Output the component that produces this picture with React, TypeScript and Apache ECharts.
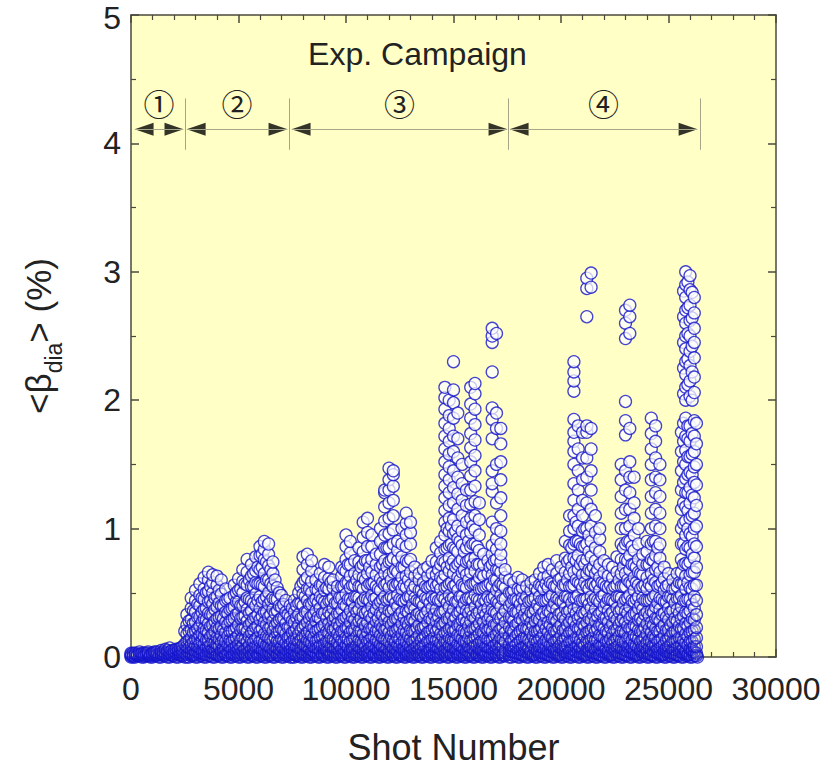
import React, { useEffect, useRef } from 'react';
import * as echarts from 'echarts';

// Each row: [shot number, <beta_dia> values (%) recorded around that shot ...]
const campaign1: number[][] = [
  [0, 0, .01, .02, .03], [200, 0, .02, .03], [400, .01, .02, .04], [600, 0, .01, .03],
  [800, .01, .02, .03, .04], [1000, 0, .02, .03], [1200, .01, .02, .04], [1400, 0, .02, .03, .05],
  [1600, .01, .03, .06], [1800, 0, .02, .04, .07], [2000, .01, .03, .05], [2200, 0, .02, .04, .06],
  [2400, .01, .03, .05, .08],
];
const campaign1Odd: number[][] = [
  [100, 0, .01, .03], [300, .01, .02], [500, 0, .02, .03], [700, .01, .03], [900, 0, .01, .02],
  [1100, .01, .03, .04], [1300, 0, .02], [1500, .01, .02, .04], [1700, 0, .03, .05], [1900, .01, .02, .05],
  [2100, 0, .03, .06], [2300, .01, .02, .04, .07], [2500, 0, .03, .1, .2],
];

const campaign2: number[][] = [
  [2600, 0, .02, .05, .08, .12, .18, .25, .33],
  [2800, .01, .03, .06, .1, .15, .21, .29, .38, .46],
  [3000, 0, .02, .04, .09, .14, .2, .27, .35, .44, .52],
  [3200, .01, .03, .07, .11, .17, .24, .31, .4, .48, .57],
  [3400, 0, .02, .05, .1, .16, .22, .3, .37, .45, .53, .62],
  [3600, .01, .04, .08, .13, .19, .26, .34, .43, .51, .6, .66],
  [3800, 0, .03, .06, .12, .18, .25, .33, .41, .5, .58, .64],
  [4000, .01, .02, .07, .1, .15, .23, .3, .39, .47, .56, .63],
  [4200, 0, .03, .05, .11, .17, .24, .32, .4, .49, .6],
  [4400, .01, .02, .06, .12, .19, .27, .35, .44, .53],
  [4600, 0, .04, .08, .13, .2, .28, .37, .46],
  [4800, .01, .03, .07, .14, .21, .3, .39, .48, .56],
  [5000, 0, .02, .06, .1, .17, .25, .34, .43, .52, .61],
  [5200, .01, .04, .09, .15, .22, .31, .4, .5, .59, .68],
  [5400, 0, .03, .07, .12, .2, .28, .37, .46, .56, .66, .76],
  [5600, .01, .02, .06, .13, .19, .27, .36, .44, .55, .63, .72],
  [5800, 0, .04, .08, .14, .23, .31, .4, .49, .58, .67, .78],
  [6000, .01, .03, .07, .12, .2, .29, .38, .47, .57, .68, .79, .86],
  [6200, 0, .02, .05, .11, .18, .27, .35, .45, .55, .65, .76, .84, .9],
  [6400, .01, .04, .09, .15, .22, .31, .41, .5, .6, .71, .8, .88],
  [6600, 0, .03, .06, .13, .2, .28, .37, .46, .55, .65, .74],
  [6800, .01, .02, .07, .12, .19, .27, .36, .45, .54],
  [7000, 0, .04, .08, .14, .22, .3, .39, .48],
  [7200, .01, .03, .06, .11, .18, .26, .35, .44],
  [7400, 0, .02, .05, .1, .16, .23, .31, .4],
];
const campaign2Odd: number[][] = [
  [2700, 0, .03, .07, .13, .2, .28], [2900, .01, .02, .06, .11, .19, .26, .36],
  [3100, 0, .04, .08, .14, .22, .31, .41], [3300, .01, .03, .05, .12, .18, .27, .35, .46],
  [3500, 0, .02, .07, .13, .21, .29, .38, .5], [3700, .01, .04, .09, .16, .24, .33, .44, .55],
  [3900, 0, .03, .06, .11, .2, .28, .37, .46], [4100, .01, .02, .08, .14, .22, .31, .42, .52],
  [4300, 0, .04, .07, .13, .21, .3, .4], [4500, .01, .03, .09, .16, .25, .34, .45],
  [4700, 0, .02, .06, .12, .2, .29, .38], [4900, .01, .04, .08, .15, .23, .33, .43, .5],
  [5100, 0, .03, .07, .13, .21, .3, .4, .53], [5300, .01, .02, .06, .14, .22, .32, .43, .57],
  [5500, 0, .04, .09, .16, .25, .34, .45, .6], [5700, .01, .03, .07, .12, .21, .3, .42, .55, .65],
  [5900, 0, .02, .08, .15, .24, .33, .44, .57, .7], [6100, .01, .04, .06, .13, .22, .32, .43, .56, .7, .8],
  [6300, 0, .03, .09, .16, .25, .35, .47, .6, .74], [6500, .01, .02, .07, .14, .23, .33, .44, .57, .68],
  [6700, 0, .04, .08, .15, .24, .34, .45, .6], [6900, .01, .03, .06, .12, .2, .29, .4, .5],
  [7100, 0, .02, .07, .13, .21, .3, .41], [7300, .01, .04, .09, .15, .23, .33],
];

const campaign3: number[][] = [
  [7600, 0, .02, .05, .09, .14, .2, .27, .35, .44],
  [7800, .01, .03, .07, .12, .18, .25, .33, .42, .5],
  [8000, 0, .02, .06, .1, .16, .23, .31, .4, .49, .58, .68, .78],
  [8200, .01, .04, .08, .13, .19, .27, .35, .44, .53, .62, .72, .8],
  [8400, 0, .03, .05, .11, .17, .24, .32, .41, .5, .59, .67, .75],
  [8600, .01, .02, .07, .12, .2, .28, .36, .45, .53, .6],
  [8800, 0, .04, .09, .15, .22, .3, .38, .47, .56, .65],
  [9000, .01, .03, .06, .1, .17, .25, .34, .43, .52, .62, .72],
  [9200, 0, .02, .05, .12, .19, .26, .35, .44, .53, .61, .7],
  [9400, .01, .04, .08, .14, .21, .29, .38, .46, .54, .6],
  [9600, 0, .03, .07, .11, .18, .26, .34, .42, .5, .55],
  [9800, .01, .02, .06, .13, .2, .28, .37, .46, .55, .63, .7],
  [10000, 0, .04, .09, .15, .23, .31, .4, .49, .58, .67, .76, .86, .95],
  [10200, .01, .03, .05, .12, .19, .27, .36, .45, .54, .63, .72, .81, .9],
  [10400, 0, .02, .07, .14, .21, .29, .38, .47, .56, .65, .75],
  [10600, .01, .04, .08, .13, .2, .28, .37, .46, .55, .64, .74, .85],
  [10800, 0, .03, .06, .11, .18, .26, .35, .44, .53, .62, .72, .82, .93, 1.05],
  [11000, .01, .02, .05, .12, .19, .27, .36, .45, .55, .65, .75, .86, .97, 1.08],
  [11200, 0, .04, .09, .15, .22, .3, .39, .48, .57, .66, .76, .86, .95],
  [11400, .01, .03, .07, .13, .2, .28, .37, .46, .55, .64, .72, .8],
  [11600, 0, .02, .06, .1, .17, .25, .34, .43, .52, .61, .7, .8, .9, 1.0],
  [11800, .01, .04, .08, .14, .21, .29, .38, .47, .56, .65, .75, .85, .95, 1.06, 1.17, 1.28, 1.3],
  [12000, 0, .03, .05, .12, .19, .27, .36, .45, .54, .64, .74, .85, .96, 1.08, 1.2, 1.3, 1.38, 1.47],
  [12200, .01, .02, .07, .13, .2, .28, .37, .46, .56, .66, .77, .88, .99, 1.1, 1.22, 1.33, 1.42, 1.45],
  [12400, 0, .04, .09, .15, .22, .3, .39, .48, .57, .66, .75, .83, .9],
  [12600, .01, .03, .06, .11, .18, .26, .35, .44, .53, .62, .7, .78, .88, 1.0],
  [12800, 0, .02, .05, .12, .19, .27, .36, .45, .54, .63, .75, .86, .95, 1.04, 1.12],
  [13000, .01, .04, .08, .14, .21, .29, .38, .47, .56, .66, .76, .88, .97, 1.05],
  [13200, 0, .03, .07, .13, .2, .28, .37, .46, .55, .63, .7],
  [13400, .01, .02, .06, .1, .17, .25, .34, .43, .52, .6, .65],
  [13600, 0, .04, .09, .15, .23, .31, .4, .49, .58, .68],
  [13800, .01, .03, .05, .12, .19, .27, .36, .45, .54, .63, .7],
  [14000, 0, .02, .07, .14, .21, .29, .38, .47, .56, .65, .75],
  [14200, .01, .04, .08, .13, .2, .28, .37, .46, .55, .64, .74, .85],
  [14400, 0, .03, .06, .11, .18, .26, .35, .44, .53, .62, .72, .81, .9],
  [14600, .01, .02, .05, .12, .19, .27, .36, .45, .54, .64, .74, .84, .95, 1.05, 1.14, 1.24, 1.33, 1.42, 1.52, 1.62, 1.72, 1.82, 1.93, 2.02, 2.1],
  [14800, 0, .04, .09, .15, .22, .3, .39, .48, .57, .67, .77, .87, .98, 1.08, 1.18, 1.28, 1.38, 1.48, 1.58, 1.68, 1.78, 1.88, 2.0],
  [15000, .01, .03, .07, .13, .2, .28, .37, .46, .55, .65, .75, .85, .96, 1.07, 1.2, 1.32, 1.45, 1.6, 1.72, 1.86, 1.98, 2.08, 2.3],
  [15200, 0, .02, .06, .1, .17, .25, .34, .43, .52, .62, .72, .82, .92, 1.02, 1.15, 1.27, 1.4, 1.55, 1.7, 1.9],
  [15400, .01, .04, .08, .14, .21, .29, .38, .47, .56, .66, .76, .87, .98, 1.1, 1.22, 1.35, 1.5],
  [15600, 0, .03, .05, .12, .19, .27, .36, .45, .54, .64, .74, .85, .95, 1.05, 1.18, 1.3],
  [15800, .01, .02, .07, .13, .2, .28, .37, .46, .56, .66, .76, .86, .97, 1.08, 1.19, 1.3, 1.41, 1.52, 1.63, 1.74, 1.86, 1.97, 2.1],
  [16000, 0, .04, .09, .15, .22, .3, .39, .48, .57, .67, .77, .88, .99, 1.1, 1.21, 1.33, 1.45, 1.57, 1.69, 1.81, 1.93, 2.05, 2.13],
  [16200, .01, .03, .06, .11, .18, .26, .35, .44, .53, .62, .72, .83, .95, 1.07, 1.2],
  [16400, 0, .02, .05, .12, .19, .27, .36, .45, .54, .63, .72, .8],
  [16600, .01, .04, .08, .14, .21, .29, .38, .47, .56, .65, .75],
  [16800, 0, .03, .07, .13, .2, .28, .37, .46, .55, .64, .72, .8, .87, 1.05, 1.29, 1.35, 1.45, 1.7, 1.85, 1.94, 2.22, 2.45, 2.5, 2.56],
  [17000, .01, .02, .06, .1, .17, .25, .34, .43, .52, .6, .68, .76, .84, .92, 1.0, 1.2, 1.5, 1.78, 1.9, 2.52],
  [17200, 0, .04, .09, .15, .22, .3, .39, .48, .57, .66, .74, .8, .88, .98, 1.1, 1.24, 1.38, 1.52, 1.66, 1.78],
  [17400, .01, .03, .05, .12, .19, .27, .36, .45, .54, .62, .68],
];
const campaign3Odd: number[][] = [
  [7500, 0, .03, .06, .12, .19, .28, .38], [7700, .01, .02, .08, .14, .22, .31, .4],
  [7900, 0, .04, .07, .13, .21, .3, .42, .55], [8100, .01, .03, .09, .16, .25, .35, .47, .6],
  [8300, 0, .02, .06, .12, .2, .3, .41, .53], [8500, .01, .04, .08, .15, .23, .33, .44],
  [8700, 0, .03, .07, .13, .21, .31, .42, .52], [8900, .01, .02, .09, .16, .24, .34, .45, .56],
  [9100, 0, .04, .06, .12, .2, .3, .41, .54], [9300, .01, .03, .08, .15, .23, .33, .44, .58],
  [9500, 0, .02, .07, .13, .22, .31, .42], [9700, .01, .04, .09, .16, .24, .34, .46],
  [9900, 0, .03, .06, .12, .2, .3, .41, .55, .68], [10100, .01, .02, .08, .14, .23, .33, .45, .58, .72],
  [10300, 0, .04, .07, .13, .21, .31, .43, .56], [10500, .01, .03, .09, .16, .25, .35, .47, .6],
  [10700, 0, .02, .06, .12, .2, .3, .42, .55, .7], [10900, .01, .04, .08, .15, .24, .34, .46, .6, .75],
  [11100, 0, .03, .07, .13, .22, .32, .44, .57, .7], [11300, .01, .02, .09, .16, .24, .34, .45, .58],
  [11500, 0, .04, .06, .12, .2, .3, .41, .53], [11700, .01, .03, .08, .15, .23, .33, .45, .58, .72],
  [11900, 0, .02, .07, .13, .22, .32, .44, .57, .7, .85], [12100, .01, .04, .09, .16, .25, .35, .47, .6, .75],
  [12300, 0, .03, .06, .12, .2, .3, .42, .55, .68], [12500, .01, .02, .08, .14, .23, .33, .45, .57],
  [12700, 0, .04, .07, .13, .21, .31, .43, .56, .7], [12900, .01, .03, .09, .16, .25, .35, .47, .6, .74],
  [13100, 0, .02, .06, .12, .2, .3, .41, .52], [13300, .01, .04, .08, .15, .23, .33, .44],
  [13500, 0, .03, .07, .13, .22, .32, .43, .52], [13700, .01, .02, .09, .16, .24, .34, .46, .55],
  [13900, 0, .04, .06, .12, .2, .3, .42, .55], [14100, .01, .03, .08, .15, .23, .33, .45, .58],
  [14300, 0, .02, .07, .13, .22, .32, .44, .57, .68], [14500, .01, .04, .09, .16, .25, .35, .47, .6, .75],
  [14700, 0, .03, .06, .12, .2, .3, .42, .55, .7, .85, 1.0], [14900, .01, .02, .08, .14, .23, .33, .45, .58, .72, .88, 1.02],
  [15100, 0, .04, .07, .13, .21, .31, .43, .56, .7, .84, .98], [15300, .01, .03, .09, .16, .25, .35, .47, .6, .74, .9],
  [15500, 0, .02, .06, .12, .2, .3, .42, .55, .68, .82], [15700, .01, .04, .08, .15, .24, .34, .46, .6, .75, .9],
  [15900, 0, .03, .07, .13, .22, .32, .44, .57, .72, .88, 1.02], [16100, .01, .02, .09, .16, .24, .34, .45, .58, .72, .86],
  [16300, 0, .04, .06, .12, .2, .3, .41, .53, .65], [16500, .01, .03, .08, .15, .23, .33, .44, .55],
  [16700, 0, .02, .07, .13, .22, .32, .44, .57, .7], [16900, .01, .04, .09, .16, .25, .35, .47, .6, .75],
  [17100, 0, .03, .06, .12, .2, .3, .42, .55, .68], [17300, .01, .02, .08, .14, .23, .33, .45, .56],
];

const campaign4: number[][] = [
  [17600, 0, .02, .05, .1, .16, .23, .31, .4, .5, .6],
  [17800, .01, .04, .08, .13, .2, .28, .36, .45, .52, .58],
  [18000, 0, .03, .06, .11, .18, .26, .35, .44, .53, .62],
  [18200, .01, .02, .07, .14, .21, .29, .37, .46, .54, .6],
  [18400, 0, .04, .09, .15, .22, .3, .38, .47, .55],
  [18600, .01, .03, .05, .12, .19, .27, .35, .44, .52, .58],
  [18800, 0, .02, .06, .13, .2, .28, .37, .46, .54, .6],
  [19000, .01, .04, .08, .14, .21, .29, .38, .47, .56, .65],
  [19200, 0, .03, .07, .11, .18, .26, .35, .44, .53, .62, .7],
  [19400, .01, .02, .05, .12, .19, .27, .36, .45, .54, .63, .72],
  [19600, 0, .04, .09, .15, .22, .3, .39, .48, .57, .68],
  [19800, .01, .03, .06, .13, .2, .28, .37, .46, .55, .65, .75],
  [20000, 0, .02, .07, .1, .17, .25, .34, .43, .52, .61, .7],
  [20200, .01, .04, .08, .14, .21, .29, .38, .47, .56, .66, .77, .9],
  [20400, 0, .03, .05, .12, .19, .27, .36, .45, .55, .65, .76, .87, .98, 1.1],
  [20600, .01, .02, .06, .13, .2, .28, .37, .46, .56, .66, .77, .88, 1.0, 1.1, 1.22, 1.35, 1.5, 1.6, 1.68, 1.75, 1.85, 2.07, 2.15, 2.22, 2.3],
  [20800, 0, .04, .09, .15, .22, .3, .39, .48, .58, .68, .79, .9, 1.02, 1.15, 1.3, 1.45, 1.62, 1.8],
  [21000, .01, .03, .07, .11, .18, .26, .35, .44, .54, .64, .75, .86, .98, 1.1, 1.22, 1.38, 1.55, 1.75],
  [21200, 0, .02, .05, .12, .19, .27, .36, .45, .55, .65, .76, .88, 1.0, 1.2, 1.4, 1.55, 1.75, 1.8, 2.65, 2.87, 2.95],
  [21400, .01, .04, .08, .14, .21, .29, .38, .47, .57, .67, .78, .9, 1.02, 1.15, 1.3, 1.45, 1.62, 1.78, 2.88, 2.99],
  [21600, 0, .03, .06, .13, .2, .28, .37, .46, .55, .65, .75, .85, .97, 1.1],
  [21800, .01, .02, .07, .1, .17, .25, .34, .43, .52, .62, .72, .82, .92, 1.0],
  [22000, 0, .04, .09, .15, .22, .3, .39, .48, .57, .66, .75],
  [22200, .01, .03, .05, .12, .19, .27, .36, .45, .54, .63, .72],
  [22400, 0, .02, .06, .11, .18, .26, .35, .44, .53, .62, .7],
  [22600, .01, .04, .08, .14, .21, .29, .38, .47, .56, .66, .78],
  [22800, 0, .03, .07, .13, .2, .28, .37, .46, .55, .65, .76, .88, 1.0, 1.12, 1.25, 1.38, 1.5],
  [23000, .01, .02, .05, .12, .19, .27, .36, .45, .55, .65, .76, .88, 1.0, 1.15, 1.3, 1.45, 1.73, 1.84, 1.99, 2.48, 2.6, 2.7],
  [23200, 0, .04, .09, .15, .22, .3, .39, .48, .58, .68, .79, .9, 1.02, 1.15, 1.28, 1.4, 1.52, 1.78, 2.52, 2.65, 2.74],
  [23400, .01, .03, .06, .1, .17, .25, .34, .43, .52, .62, .72, .83, .95, 1.08, 1.2, 1.4],
  [23600, 0, .02, .07, .14, .21, .29, .38, .47, .56, .66, .76, .88, 1.0],
  [23800, .01, .04, .08, .13, .2, .28, .37, .46, .55, .64, .72, .8],
  [24000, 0, .03, .05, .11, .18, .26, .35, .44, .53, .62, .72, .82, .9],
  [24200, .01, .02, .06, .12, .19, .27, .36, .45, .55, .65, .76, .88, 1.0, 1.12, 1.25, 1.38, 1.5, 1.62, 1.74, 1.86],
  [24400, 0, .04, .09, .15, .22, .3, .39, .48, .58, .68, .79, .9, 1.02, 1.15, 1.28, 1.4, 1.55, 1.68, 1.8],
  [24600, .01, .03, .07, .13, .2, .28, .37, .46, .56, .66, .77, .88, 1.0, 1.12, 1.25, 1.38, 1.5],
  [24800, 0, .02, .05, .1, .17, .25, .34, .43, .52, .61, .7],
  [25000, .01, .04, .08, .14, .21, .29, .38, .47, .56, .65],
  [25200, 0, .03, .06, .12, .19, .27, .36, .45, .53, .6],
  [25400, .01, .02, .07, .13, .2, .28, .37, .46, .55, .65],
  [25600, 0, .04, .09, .15, .22, .3, .39, .48, .57, .66, .76, .88, 1.0, 1.15, 1.3, 1.45, 1.6, 1.75],
  [25800, .01, .03, .05, .11, .18, .26, .35, .44, .53, .63, .73, .84, .95, 1.06, 1.17, 1.28, 1.39, 1.5, 1.61, 1.72, 1.86, 2.0, 2.1, 2.2, 2.3, 2.4, 2.5, 2.6, 2.7, 2.8, 2.9, 3.0],
  [26000, 0, .02, .06, .12, .19, .27, .36, .45, .54, .64, .74, .85, .96, 1.08, 1.2, 1.32, 1.44, 1.56, 1.68, 1.8, 2.03, 2.15, 2.27, 2.38, 2.5, 2.62, 2.74, 2.86, 2.97],
  [26200, .01, .04, .08, .14, .21, .29, .38, .47, .56, .66, .77, .88, 1.0, 1.12, 1.24, 1.36, 1.48, 1.6, 1.72, 1.84, 2.06, 2.18, 2.33, 2.45, 2.56, 2.68, 2.8],
  [26350, 0],
];
const campaign4Odd: number[][] = [
  [17700, 0, .04, .07, .13, .21, .31, .42, .5], [17900, .01, .03, .09, .16, .25, .35, .45],
  [18100, 0, .02, .06, .12, .2, .3, .41, .52], [18300, .01, .04, .08, .15, .23, .33, .44],
  [18500, 0, .03, .07, .13, .22, .32, .43], [18700, .01, .02, .09, .16, .24, .34, .45],
  [18900, 0, .04, .06, .12, .2, .3, .41, .52], [19100, .01, .03, .08, .15, .23, .33, .44, .55],
  [19300, 0, .02, .07, .13, .22, .32, .44, .57], [19500, .01, .04, .09, .16, .25, .35, .47, .58],
  [19700, 0, .03, .06, .12, .2, .3, .42, .55], [19900, .01, .02, .08, .14, .23, .33, .45, .6],
  [20100, 0, .04, .07, .13, .21, .31, .43, .56], [20300, .01, .03, .09, .16, .25, .35, .47, .6, .74],
  [20500, 0, .02, .06, .12, .2, .3, .42, .55, .7, .85], [20700, .01, .04, .08, .15, .24, .34, .46, .6, .75, .9, 1.05],
  [20900, 0, .03, .07, .13, .22, .32, .44, .57, .72, .88], [21100, .01, .02, .09, .16, .24, .34, .45, .58, .72, .86, 1.0],
  [21300, 0, .04, .06, .12, .2, .3, .41, .53, .68, .82, .95], [21500, .01, .03, .08, .15, .23, .33, .44, .57, .7],
  [21700, 0, .02, .07, .13, .22, .32, .44, .57, .68], [21900, .01, .04, .09, .16, .25, .35, .47, .58],
  [22100, 0, .03, .06, .12, .2, .3, .42, .55], [22300, .01, .02, .08, .14, .23, .33, .45, .56],
  [22500, 0, .04, .07, .13, .21, .31, .43, .55], [22700, .01, .03, .09, .16, .25, .35, .47, .6],
  [22900, 0, .02, .06, .12, .2, .3, .42, .55, .7, .85], [23100, .01, .04, .08, .15, .24, .34, .46, .6, .75, .9],
  [23300, 0, .03, .07, .13, .22, .32, .44, .57, .72, .86], [23500, .01, .02, .09, .16, .24, .34, .45, .58, .7],
  [23700, 0, .04, .06, .12, .2, .3, .41, .53, .65], [23900, .01, .03, .08, .15, .23, .33, .44, .56],
  [24100, 0, .02, .07, .13, .22, .32, .44, .57, .72], [24300, .01, .04, .09, .16, .25, .35, .47, .6, .75, .9],
  [24500, 0, .03, .06, .12, .2, .3, .42, .55, .7, .85], [24700, .01, .02, .08, .14, .23, .33, .45, .58],
  [24900, 0, .04, .07, .13, .21, .31, .43, .55], [25100, .01, .03, .09, .16, .25, .35, .47],
  [25300, 0, .02, .06, .12, .2, .3, .42, .53], [25500, .01, .04, .08, .15, .24, .34, .46, .58],
  [25700, 0, .03, .07, .13, .22, .32, .44, .57, .72, .88, 1.04, 1.2, 1.36, 1.52, 1.68, 1.82, 2.05, 2.25, 2.45, 2.65, 2.85],
  [25900, .01, .02, .09, .16, .24, .34, .45, .58, .72, .86, 1.0, 1.14, 1.28, 1.42, 1.56, 1.7, 1.8, 2.12, 2.32, 2.52, 2.72, 2.92],
  [26100, 0, .04, .06, .12, .2, .3, .41, .53, .66, .8, .94, 1.1, 1.26, 1.42, 1.58, 1.74, 2.0, 2.22, 2.42, 2.64, 2.84],
  [26300, .01, .03, .08, .15, .23, .33, .44, .56, .7, .86, 1.02, 1.18, 1.34, 1.5, 1.66, 1.82],
];

// Campaign annotation (shot numbers)
const campaignLabels = ['①', '②', '③', '④'];
const arrowStart = [190, 2610, 7490, 17630];
const arrowEnd = [2420, 7260, 17490, 26330];
const campaignBounds = [2510, 7360, 17550, 26460];
const arrowLevel = 4.11;
const boundLow = 3.95;
const boundHigh = 4.35;

const FONT = '"Liberation Sans", Arial, Helvetica, sans-serif';
const AXIS_COLOR = '#4a4a3c';
const TEXT_COLOR = '#222222';

const rows: number[][] = [
  ...campaign1, ...campaign1Odd, ...campaign2, ...campaign2Odd,
  ...campaign3, ...campaign3Odd, ...campaign4, ...campaign4Odd,
].sort((a, b) => a[0] - b[0]);

const points: number[][] = rows.flatMap(([shot, ...vals]) => vals.map((v) => [shot, v]));

function axisCommon(extra: any) {
  return {
    type: 'value',
    axisLine: { show: true, onZero: false, lineStyle: { color: AXIS_COLOR, width: 1.5 } },
    axisTick: { show: true, inside: true, length: 8, lineStyle: { color: AXIS_COLOR, width: 1.5 } },
    splitLine: { show: false },
    minorSplitLine: { show: false },
    ...extra,
  };
}

export default function App() {
  const ref = useRef<HTMLDivElement>(null);

  useEffect(() => {
    if (!ref.current) return;
    const chart = echarts.init(ref.current, undefined, { renderer: 'svg' });
    const minorX = { show: true, splitNumber: 5, length: 5, lineStyle: { color: AXIS_COLOR, width: 1.2 } };
    const minorY = { show: true, splitNumber: 2, length: 5, lineStyle: { color: AXIS_COLOR, width: 1.2 } };
    const option: any = {
      animation: false,
      backgroundColor: '#ffffff',
      title: {
        text: 'Exp. Campaign',
        left: 'center',
        top: 33,
        textStyle: { fontSize: 32, fontWeight: 'normal', color: TEXT_COLOR, fontFamily: FONT },
      },
      grid: {
        left: 131, right: 59, top: 15, bottom: 109, show: true,
        backgroundColor: '#ffffc6', borderWidth: 0, outerBoundsMode: 'none',
      },
      xAxis: [
        axisCommon({
          position: 'bottom', min: 0, max: 30000, interval: 5000, minorTick: minorX,
          axisLabel: { fontSize: 32, color: TEXT_COLOR, fontFamily: FONT, margin: 16, formatter: (v: number) => String(v) },
          name: 'Shot Number', nameLocation: 'middle', nameGap: 72,
          nameTextStyle: { fontSize: 36, color: TEXT_COLOR, fontFamily: FONT },
        }),
        axisCommon({
          position: 'top', min: 0, max: 30000, interval: 5000, minorTick: minorX,
          axisLabel: { show: false },
        }),
      ],
      yAxis: [
        axisCommon({
          position: 'left', min: 0, max: 5, interval: 1, minorTick: minorY,
          axisLabel: {
            fontSize: 32, color: TEXT_COLOR, fontFamily: FONT, margin: 10,
            formatter: (v: number) => (v === 5 ? `{top|${v}}` : String(v)),
            rich: { top: { fontSize: 32, color: TEXT_COLOR, fontFamily: FONT, padding: [6, 0, 0, 0] } },
          },
          name: '<β{sub|dia}> (%)', nameLocation: 'middle', nameGap: 66, nameRotate: 90,
          nameTextStyle: {
            fontSize: 35, color: TEXT_COLOR, fontFamily: FONT,
            rich: { sub: { fontSize: 23, color: TEXT_COLOR, fontFamily: FONT, lineHeight: 54, verticalAlign: 'bottom' } },
          },
        }),
        axisCommon({
          position: 'right', min: 0, max: 5, interval: 1, minorTick: minorY,
          axisLabel: { show: false },
        }),
      ],
      series: [
        {
          name: 'beta',
          type: 'scatter',
          data: points,
          symbol: 'circle',
          symbolSize: 12,
          large: false,
          clip: false,
          itemStyle: {
            // low, densely packed shots overlap heavily; a lighter fill keeps their outlines visible
            color: (p: any) => `rgba(255,255,255,${Math.min(0.9, 0.05 + p.value[1] * 1.05).toFixed(2)})`,
            borderColor: '#1414cc',
            borderWidth: 1.3,
          },
          silent: true,
        },
        {
          name: 'campaigns',
          type: 'scatter',
          symbol: 'triangle',
          symbolSize: [13, 19],
          clip: false,
          silent: true,
          itemStyle: { color: '#000000' },
          data: [
            ...arrowStart.map((x) => ({ value: [x, arrowLevel], symbolRotate: 90, symbolOffset: [9, 0] })),
            ...arrowEnd.map((x) => ({ value: [x, arrowLevel], symbolRotate: -90, symbolOffset: [-9, 0] })),
          ],
          markLine: {
            silent: true,
            symbol: 'none',
            animation: false,
            lineStyle: { color: '#a5a58a', width: 1, type: 'solid' },
            label: {
              show: true, position: 'insideMiddleTop', distance: 11, formatter: '{b}',
              fontSize: 31, color: TEXT_COLOR, fontFamily: '"Noto Sans CJK JP", "DejaVu Sans", sans-serif',
            },
            emphasis: { disabled: true },
            data: [
              ...campaignLabels.map((name, i) => [
                { name, coord: [arrowStart[i], arrowLevel] },
                { coord: [arrowEnd[i], arrowLevel] },
              ]),
              ...campaignBounds.map((x) => [
                { coord: [x, boundLow], label: { show: false } },
                { coord: [x, boundHigh] },
              ]),
            ],
          },
        },
      ],
    };
    chart.setOption(option);
    return () => chart.dispose();
  }, []);

  return (
    <div
      ref={ref}
      style={{ position: 'fixed', left: 0, top: 0, width: 835, height: 766, background: '#fff' }}
    />
  );
}
